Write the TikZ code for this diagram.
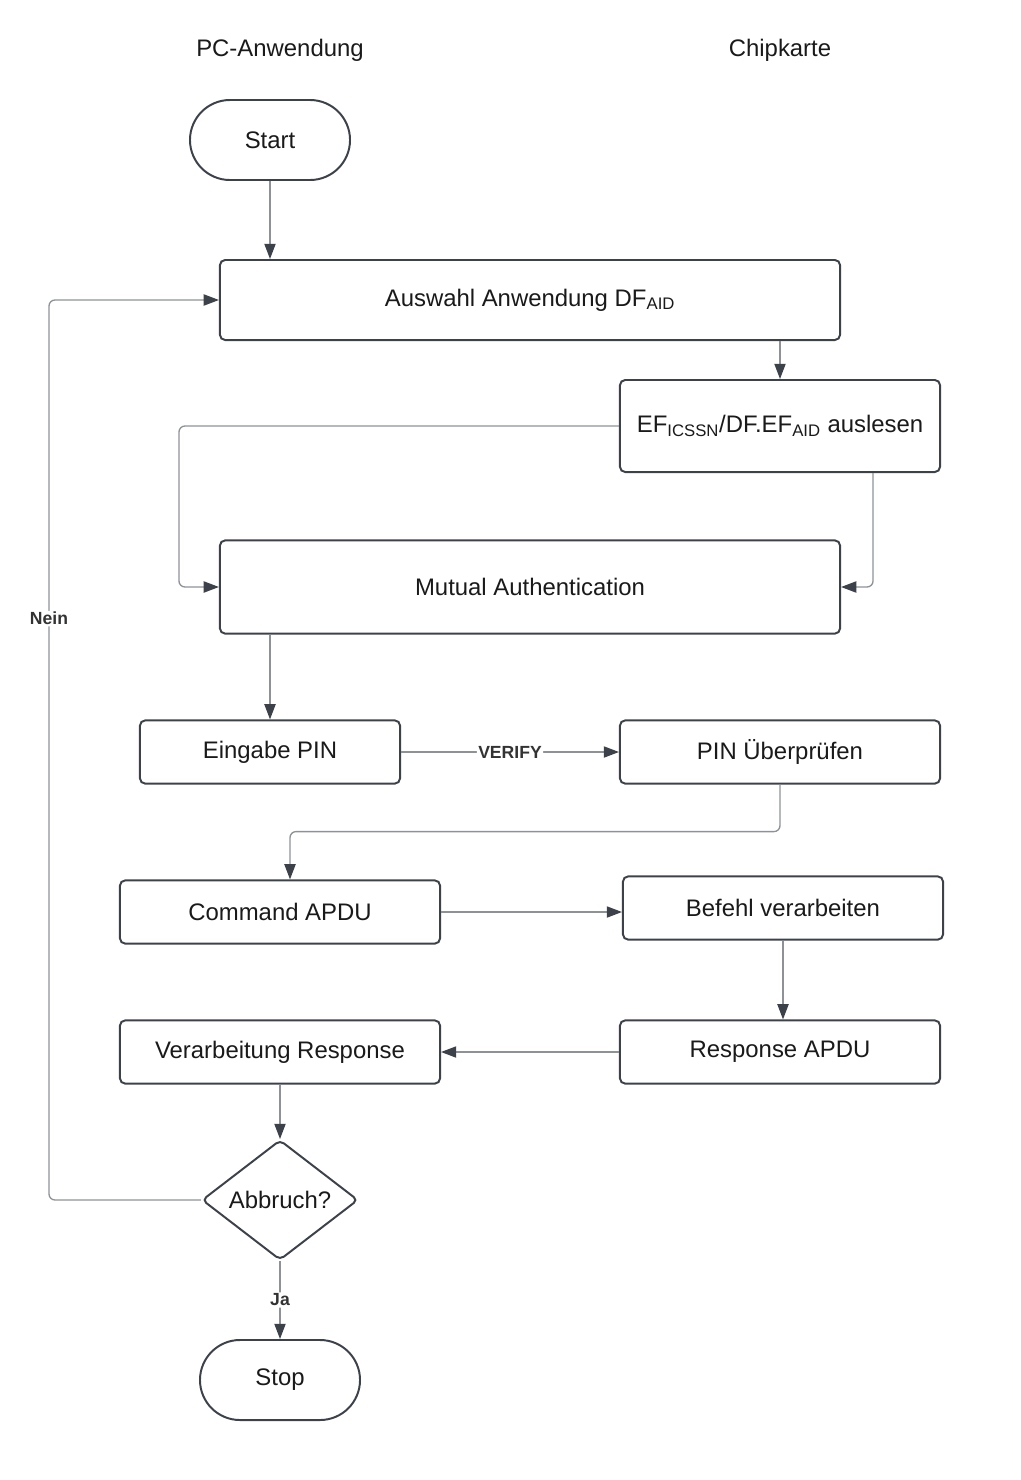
\documentclass[tikz,border=0pt]{standalone}
\usepackage{fontspec}
\setmainfont{Liberation Sans}
\usetikzlibrary{arrows.meta,shapes.geometric}
\definecolor{rahmen}{HTML}{3D424A}
\definecolor{linie}{HTML}{8E9298}
\definecolor{schrift}{HTML}{1A1A1A}
\definecolor{label}{HTML}{333333}

\begin{document}
\begin{tikzpicture}[x=0.025cm, y=-0.025cm,
  every node/.style={text=schrift, font=\fontsize{17}{20}\selectfont},
  kasten/.style={draw=rahmen, line width=1.4pt, rounded corners=0.13cm, fill=white},
  terminal/.style={kasten, rounded corners=1cm, minimum width=4cm, minimum height=2cm},
  frage/.style={draw=rahmen, line width=1.4pt, diamond, rounded corners=0.12cm,
    minimum width=3.9cm, minimum height=3cm, aspect=1.3, inner sep=0pt},
  pfeil/.style={draw=linie, line width=0.95pt, rounded corners=0.15cm,
    -{Triangle[length=0.38cm, width=0.28cm, color=rahmen]}},
  bed/.style={fill=white, text=label, inner sep=1pt,
    font=\fontsize{12.5}{14}\selectfont\bfseries}]
\useasboundingbox (0,0) rectangle (1020,1480);

% Spalten
\node (pc) at (280,50) {PC-Anwendung};
\node (chip) at (780,50) {Chipkarte};

% Ablauf
\node[terminal] (start) at (270,140) {Start};
\node[kasten, minimum width=15.5cm, minimum height=2cm] (auswahl) at (530,300)
  {Auswahl Anwendung DF\textsubscript{AID}};
\node[kasten, minimum width=8cm, minimum height=2.3cm] (lesen) at (780,426)
  {EF\textsubscript{ICSSN}/DF.EF\textsubscript{AID} auslesen};
\node[kasten, minimum width=15.5cm, minimum height=2.33cm] (mutual) at (530,587)
  {Mutual Authentication};
\node[kasten, minimum width=6.5cm, minimum height=1.58cm] (eingabe) at (270,752) {Eingabe PIN};
\node[kasten, minimum width=8cm, minimum height=1.58cm] (pruefen) at (780,752) {PIN Überprüfen};
\node[kasten, minimum width=8cm, minimum height=1.58cm] (command) at (280,912) {Command APDU};
\node[kasten, minimum width=8cm, minimum height=1.58cm] (befehl) at (783,908) {Befehl verarbeiten};
\node[kasten, minimum width=8cm, minimum height=1.58cm] (response) at (780,1052) {Response APDU};
\node[kasten, minimum width=8cm, minimum height=1.58cm] (verarb) at (280,1052) {Verarbeitung Response};
\node[frage] (abbruch) at (280,1200) {Abbruch?};
\node[terminal] (stop) at (280,1380) {Stop};

% Verbindungen
\draw[pfeil] (start.south) -- (start.south |- auswahl.north);
\draw[pfeil] (lesen.north |- auswahl.south) -- (lesen.north);
\draw[pfeil] (lesen.west) -- ++(-440,0) |- (mutual.west);
\draw[pfeil] ([xshift=2.325cm]lesen.south) |- (mutual.east);
\draw[pfeil] (mutual.south -| eingabe.north) -- (eingabe.north);
\draw[pfeil] (eingabe.east) -- node[bed] {VERIFY} (pruefen.west);
\draw[pfeil] (pruefen.south) -- ++(0,47) -| ([xshift=0.25cm]command.north);
\draw[pfeil] (command.east) -- (command.east -| befehl.west);
\draw[pfeil] (befehl.south) -- (befehl.south |- response.north);
\draw[pfeil] (response.west) -- (verarb.east);
\draw[pfeil] (verarb.south) -- (abbruch.north);
\draw[pfeil] (abbruch.west) -- ++(-152,0) |- node[bed, pos=0.323] {Nein} (auswahl.west);
\draw[pfeil] (abbruch.south) -- node[bed] {Ja} (stop.north);
\end{tikzpicture}
\end{document}
